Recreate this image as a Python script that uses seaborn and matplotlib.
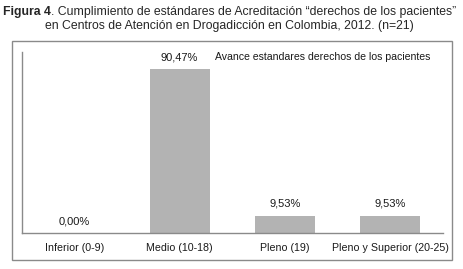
import matplotlib
matplotlib.use("Agg")
import matplotlib.pyplot as plt
import seaborn as sns
import pandas as pd
from matplotlib.patches import Rectangle

categorias = ["Inferior (0-9)", "Medio (10-18)", "Pleno (19)", "Pleno y Superior (20-25)"]
porcentajes = [0.00, 90.47, 9.53, 9.53]
etiquetas = ["0,00%", "90,47%", "9,53%", "9,53%"]
serie = "Avance estandares derechos de los pacientes"

sns.set_style("white")
plt.rcParams["font.family"] = ["Liberation Sans", "DejaVu Sans"]

df = pd.DataFrame({"cat": categorias, "val": porcentajes})

W, H = 464, 269
fig = plt.figure(figsize=(W / 100, H / 100), dpi=100)

# marco exterior
fig.patches.append(Rectangle((12.5 / W, 1 - 259.5 / H), 439.5 / W, 219 / H,
                             transform=fig.transFigure, fill=False,
                             edgecolor="#8a8a8a", linewidth=1.0))

ax = fig.add_axes([21.5 / W, 1 - 233 / H, 421.5 / W, 181 / H])
sns.barplot(data=df, x="cat", y="val", color="#b3b3b3", width=0.57,
            saturation=1, ax=ax, edgecolor="none")
ax.set_ylim(0, 100)
ax.set_xlim(-0.5, 3.5)
ax.set_xlabel("")
ax.set_ylabel("")
ax.set_yticks([])
ax.tick_params(axis="x", length=0, pad=7.5, labelsize=7.7, labelcolor="#1a1a1a")
for s in ["top", "right"]:
    ax.spines[s].set_visible(False)
for s in ["left", "bottom"]:
    ax.spines[s].set_color("#8a8a8a")
    ax.spines[s].set_linewidth(1.0)

ax.bar_label(ax.containers[0], labels=etiquetas, padding=5, fontsize=8, color="#1a1a1a")

ax.text(0.460, 0.97, serie, transform=ax.transAxes, fontsize=7.6,
        color="#1a1a1a", va="center", ha="left")

# titulo con "Figura 4" en negrita
linea1_resto = ". Cumplimiento de estándares de Acreditación “derechos de los pacientes”"
linea2 = "en Centros de Atención en Drogadicción en Colombia, 2012. (n=21)"
fs = 8.85
fig.canvas.draw()
r = fig.canvas.get_renderer()
t1 = fig.text(0, 0, "Figura 4", fontsize=fs, fontweight="bold")
t2 = fig.text(0, 0, linea1_resto, fontsize=fs)
w1 = t1.get_window_extent(r).width
w2 = t2.get_window_extent(r).width
x0 = 230 - (w1 + w2) / 2
y1 = 1 - 12 / H
t1.set_position((x0 / W, y1))
t1.set_va("center")
t2.set_position(((x0 + w1) / W, y1))
t2.set_va("center")
fig.text(229 / W, 1 - 26 / H, linea2, fontsize=fs, ha="center", va="center")

fig.savefig("out.png", dpi=100)
